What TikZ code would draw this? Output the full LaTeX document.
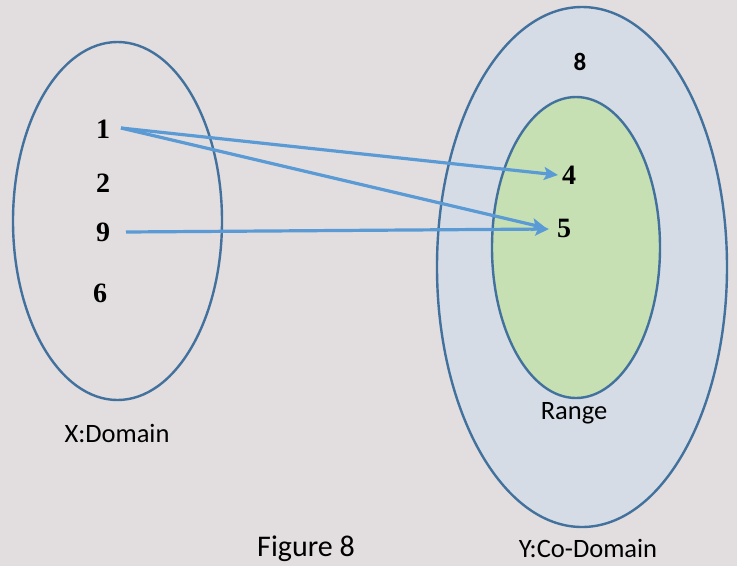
\documentclass[tikz,border=0pt]{standalone}
\usepackage{fontspec}
\setmainfont{Carlito}
\newfontfamily\numfont{Liberation Serif}
\usetikzlibrary{arrows.meta}
\definecolor{bgc}{HTML}{E2DDDF}
\definecolor{outerfill}{HTML}{D6DCE5}
\definecolor{innerfill}{HTML}{C6E0B4}
\definecolor{edgec}{HTML}{41719C}
\definecolor{arrowc}{HTML}{5B9BD5}
\tikzset{
  setline/.style={draw=edgec, line width=2.4pt},
  elem/.style={font=\numfont\bfseries\fontsize{28}{28}\selectfont, text=black, inner sep=0pt},
  elemsans/.style={font=\bfseries\fontsize{25}{25}\selectfont, text=black, inner sep=0pt},
  lbl/.style={font=\fontsize{26.5}{26.5}\selectfont, text=black, inner sep=0pt},
  maparrow/.style={draw=arrowc, line width=3.2pt, -{Stealth[length=14pt,width=13pt,inset=3pt]}}
}
\begin{document}
\begin{tikzpicture}[x=1pt,y=-1pt]
\fill[bgc] (0,0) rectangle (737,566);
\useasboundingbox (0,0) rectangle (737,566);
% sets
\draw[setline] (117.5,221) ellipse [x radius=104.5, y radius=179];
\draw[setline, fill=outerfill] (582,267) ellipse [x radius=145, y radius=260];
\draw[setline, fill=innerfill] (576,247.5) ellipse [x radius=84, y radius=150.5];
% elements
\node[elem] (n1) at (103,129) {1};
\node[elem] (n2) at (103,183) {2};
\node[elem] (n9) at (103,232) {9};
\node[elem] (n6) at (100,293) {6};
\node[elem] (n4) at (569,175) {4};
\node[elem] (n5) at (564,228) {5};
\node[elemsans] (n8) at (580,62) {8};
% connector anchors
\coordinate (s1) at (121,128);
\coordinate (s9) at (126,232);
\coordinate (e4) at (558,175);
\coordinate (e5a) at (546,228);
\coordinate (e5b) at (549,229);
\draw[maparrow] (s1) -- (e4);
\draw[maparrow] (s1) -- (e5a);
\draw[maparrow] (s9) -- (e5b);
% labels
\node[lbl] (ldom) at (117,433) {X:Domain};
\node[lbl] (lrange) at (574,413) {Range};
\node[lbl] (lcod) at (588,548) {Y:Co-Domain};
\node[lbl, font=\fontsize{30}{30}\selectfont] (lfig) at (306,549) {Figure 8};
\end{tikzpicture}
\end{document}
